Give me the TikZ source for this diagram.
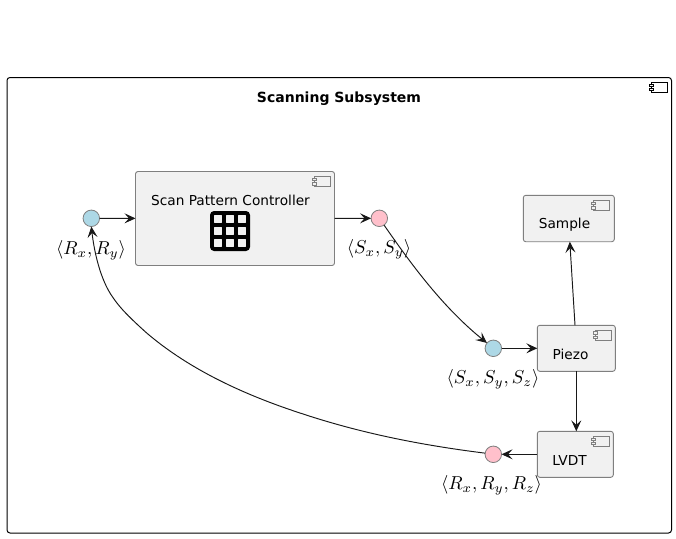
\documentclass[tikz,border=0pt]{standalone}
\usepackage{fontspec}
\setmainfont{DejaVu Sans}
\usetikzlibrary{arrows.meta,backgrounds}
\definecolor{boxfill}{HTML}{F1F1F1}
\definecolor{boxline}{HTML}{7F7F7F}
\definecolor{edgecol}{HTML}{181818}
\definecolor{inblue}{HTML}{ADD8E6}
\definecolor{outpink}{HTML}{FFC0CB}
\tikzset{
  comp/.style={draw=boxline,fill=boxfill,line width=0.9pt,rounded corners=2.5pt,inner sep=0pt,outer sep=0pt},
  outer/.style={draw=black,fill=white,line width=1pt,rounded corners=3pt,inner sep=0pt,outer sep=0pt},
  port/.style={circle,draw=boxline,line width=0.8pt,minimum size=16.5pt,inner sep=0pt,outer sep=0pt},
  inport/.style={port,fill=inblue},
  outport/.style={port,fill=outpink},
  txt/.style={inner sep=0pt,font=\fontsize{13.7}{15}\selectfont,text=black},
  ttl/.style={inner sep=0pt,font=\fontsize{14}{15}\selectfont\bfseries,text=black},
  mathlab/.style={inner sep=0pt,scale=1.87,transform shape,text=black},
  conn/.style={draw=edgecol,line width=0.95pt,-{Stealth[length=11pt,width=10pt,inset=4.5pt]}},
  compicon/.pic={
    \draw[pic actions,fill=none,line width=0.7pt] (0,0) rectangle (15.7,10);
    \draw[pic actions,fill=boxfill,line width=0.7pt] (-2,1.7) rectangle (2,4);
    \draw[pic actions,fill=boxfill,line width=0.7pt] (-2,6) rectangle (2,8.3);
  }
}
\begin{document}
\begin{tikzpicture}[x=1pt,y=-1pt]
\useasboundingbox (0,0) rectangle (676,538);
\fill[white] (0,0) rectangle (676,538);
% outer container
\node[outer,minimum width=664.5pt,minimum height=455.5pt] (sys) at (339.25,305.25) {};
\node[ttl] (systitle) at (339,99) {Scanning Subsystem};
\pic[draw=black,fill=white] at (651.2,82.5) {compicon};
% components
\node[comp,minimum width=199pt,minimum height=94pt] (spc) at (235,218.5) {};
\node[txt] (spctext) at (230.5,200.5) {Scan Pattern Controller};
\pic[draw=boxline] at (314.4,176.7) {compicon};
\node[rectangle,draw=none,fill=black,rounded corners=4pt,minimum size=40pt,inner sep=0pt] (grid) at (230,231) {};
\foreach \gx in {-12,0,12}\foreach \gy in {-12,0,12}{
  \fill[boxfill,rounded corners=0.5pt] (230+\gx-3.9,231+\gy-3.9) rectangle ++(7.8,7.8);
}
\node[comp,minimum width=91pt,minimum height=46.4pt] (sample) at (568.8,218.5) {};
\node[txt] (sampletext) at (564.5,224.8) {Sample};
\pic[draw=boxline] at (593.8,200.7) {compicon};
\node[comp,minimum width=78pt,minimum height=46pt] (piezo) at (576.3,348.3) {};
\node[txt] (piezotext) at (570.5,354.8) {Piezo};
\pic[draw=boxline] at (595.3,330) {compicon};
\node[comp,minimum width=76pt,minimum height=46pt] (lvdt) at (575.3,454.3) {};
\node[txt] (lvdttext) at (569.5,460.8) {LVDT};
\pic[draw=boxline] at (593.3,436.5) {compicon};
% ports
\node[inport] (rxy) at (91.3,218.3) {};
\node[outport] (sxy) at (379.3,218.3) {};
\node[inport] (sxyz) at (493.3,348.3) {};
\node[outport] (rxyz) at (493.3,454.3) {};
\node[mathlab] (rxylab) at (91,250) {$\langle R_x, R_y\rangle$};
\node[mathlab] (sxylab) at (379,249) {$\langle S_x, S_y\rangle$};
\node[mathlab] (sxyzlab) at (493,379) {$\langle S_x, S_y, S_z\rangle$};
\node[mathlab] (rxyzlab) at (491.5,485) {$\langle R_x, R_y, R_z\rangle$};
% connectors
\draw[conn] (rxy) -- (spc);
\draw[conn] (spc) -- (sxy);
\draw[conn] (sxy.-55) .. controls (407,258) and (440,305) .. (sxyz.140);
\draw[conn] (sxyz) -- (piezo);
\draw[conn] ([xshift=-1.3pt]piezo.north) -- ([xshift=1pt]sample.south);
\draw[conn] (piezo.south) -- ([xshift=1pt]lvdt.north);
\draw[conn] (lvdt) -- (rxyz);
\draw[conn] (rxyz.172) .. controls (420,445) and (360,433) .. (300,413) .. controls (245,395) and (190,370) .. (146.7,333) .. controls (130,318) and (120,308) .. (113.3,298) .. controls (100,280) and (94,250) .. (rxy.south);
\end{tikzpicture}
\end{document}
